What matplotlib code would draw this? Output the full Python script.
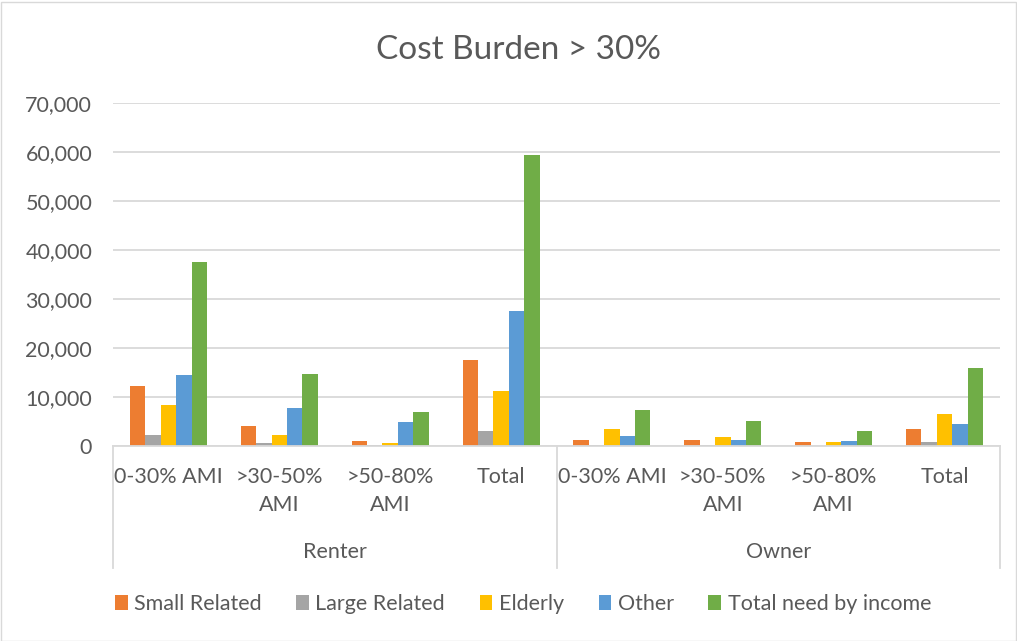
import matplotlib
matplotlib.use("Agg")
import matplotlib.pyplot as plt
import matplotlib.transforms as mtransforms
from matplotlib.patches import Patch
import numpy as np

plt.rcParams['font.family'] = ['Lato', 'DejaVu Sans']

# Data
groups = ["Renter", "Owner"]
income_levels = ["0-30% AMI", ">30-50%\nAMI", ">50-80%\nAMI", "Total"]
series_names = ["Small Related", "Large Related", "Elderly", "Other", "Total need by income"]
small_related = [12260, 4020, 1100, 17570, 1290, 1290, 740, 3530]
large_related = [2190, 700, 150, 3000, 270, 270, 100, 740]
elderly = [8310, 2190, 550, 11170, 3530, 1900, 880, 6600]
other = [14590, 7760, 4980, 27450, 1960, 1290, 1080, 4560]
total_need = [37470, 14790, 6880, 59300, 7420, 5170, 3130, 15860]

colors = ["#ED7D31", "#A5A5A5", "#FFC000", "#5B9BD5", "#70AD47"]
text_color = "#595959"
grid_color = "#D9D9D9"
label_size = 15.5

W, H = 1017, 641
fig = plt.figure(figsize=(W / 100, H / 100), dpi=100)
fig.patch.set_facecolor("white")

# Outer chart border
fig.add_artist(plt.Rectangle((0.5 / W, 0.5 / H), 1 - 2 / W, 1 - 2 / H,
                             transform=fig.transFigure, fill=False,
                             edgecolor=grid_color, linewidth=1))

left, right = 113 / W, 1000 / W
bottom, top = (H - 446) / H, (H - 103) / H
ax = fig.add_axes([left, bottom, right - left, top - bottom])

values = [small_related, large_related, elderly, other, total_need]
n_cat = len(small_related)
x = np.arange(n_cat)
bar_w = 0.139
for i, (vals, c, name) in enumerate(zip(values, colors, series_names)):
    offs = (i - 2) * bar_w
    ax.bar(x + offs, vals, width=bar_w, color=c, label=name, zorder=3, linewidth=0)

ax.set_xlim(-0.5, n_cat - 0.5)
ax.set_ylim(0, 70000)
ax.set_yticks(np.arange(0, 70001, 10000))
ax.set_yticklabels([f"{v:,}" for v in range(0, 70001, 10000)])
ax.tick_params(axis="y", length=0, pad=15, labelsize=label_size, labelcolor=text_color)
ax.set_xticks([])
ax.grid(axis="y", color=grid_color, linewidth=1.3, zorder=0)
for s in ["left", "right", "top"]:
    ax.spines[s].set_visible(False)
ax.spines["bottom"].set_color(grid_color)
ax.spines["bottom"].set_linewidth(1.3)
ax.spines["bottom"].set_zorder(4)

# Multi-level category axis
trans = mtransforms.blended_transform_factory(ax.transData, ax.transAxes)
ax_h = 446 - 103
def yfrac(py):
    return (446 - py) / ax_h

labels_all = income_levels * len(groups)
for xi, lab in zip(x, labels_all):
    ax.text(xi, yfrac(467), lab, transform=trans, ha="center", va="top",
            fontsize=label_size, color=text_color, linespacing=1.5)
for gi, g in enumerate(groups):
    ax.text(gi * 4 + 1.5, yfrac(552), g, transform=trans, ha="center",
            va="center", fontsize=label_size, color=text_color)
for xb in [-0.5, 3.5, 7.5]:
    ax.plot([xb, xb], [0, yfrac(568)], transform=trans, color=grid_color,
            linewidth=1.3, clip_on=False)

fig.text(519 / W, 1 - 50 / H, "Cost Burden > 30%", ha="center", va="center",
         fontsize=24, color=text_color)

handles = [Patch(facecolor=c, label=n) for c, n in zip(colors, series_names)]
fig.legend(handles=handles, loc="center", bbox_to_anchor=(523 / W, 1 - 604 / H),
           ncol=5, frameon=False, fontsize=label_size, handlelength=0.6,
           handleheight=0.75, handletextpad=0.3, columnspacing=1.6,
           labelcolor=text_color)

fig.savefig("out.png", dpi=100)
